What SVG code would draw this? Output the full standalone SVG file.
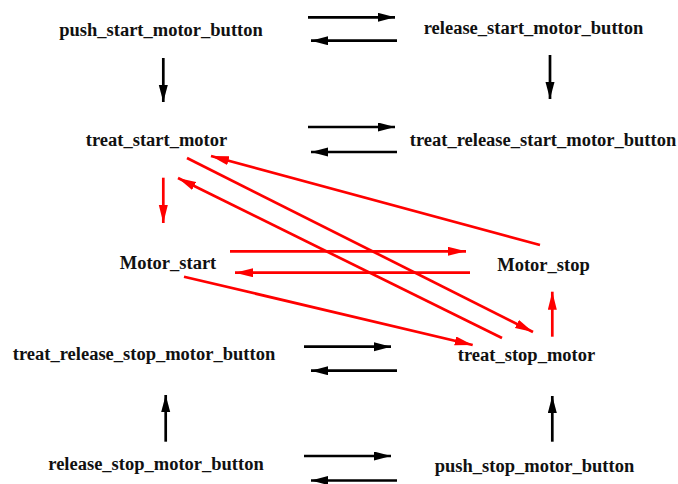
<svg xmlns="http://www.w3.org/2000/svg" width="678" height="484" viewBox="0 0 678 484">
  <style>
    .lbl { font-family: "Liberation Serif", "Times New Roman", serif; font-weight: bold; font-size: 18.5px; fill: #111; text-anchor: middle; }
    .blk { stroke: #000; stroke-width: 2.7; fill: none; marker-end: url(#ahB); }
    .red { stroke: #ff0000; stroke-width: 2.7; fill: none; marker-end: url(#ahR); }
    .redplain { stroke: #ff0000; stroke-width: 2.7; fill: none; }
  </style>
  <defs>
    <marker id="ahB" markerUnits="userSpaceOnUse" markerWidth="18" markerHeight="10" refX="17" refY="4.5" orient="auto">
      <path d="M0,0 L17,4.5 L0,9 z" fill="#000"/>
    </marker>
    <marker id="ahR" markerUnits="userSpaceOnUse" markerWidth="20" markerHeight="10" refX="18" refY="4.5" orient="auto">
      <path d="M0,0 L18,4.5 L0,9 z" fill="#ff0000"/>
    </marker>
  </defs>
  <rect width="678" height="484" fill="#fff"/>

  <!-- states -->
  <g id="push_start_motor_button"><text class="lbl" x="161" y="36">push_start_motor_button</text></g>
  <g id="release_start_motor_button"><text class="lbl" x="533.5" y="34">release_start_motor_button</text></g>
  <g id="treat_start_motor"><text class="lbl" x="156.5" y="146">treat_start_motor</text></g>
  <g id="treat_release_start_motor_button"><text class="lbl" x="543" y="146">treat_release_start_motor_button</text></g>
  <g id="Motor_start"><text class="lbl" x="168" y="269">Motor_start</text></g>
  <g id="Motor_stop"><text class="lbl" x="543.5" y="271">Motor_stop</text></g>
  <g id="treat_release_stop_motor_button"><text class="lbl" x="144" y="360">treat_release_stop_motor_button</text></g>
  <g id="treat_stop_motor"><text class="lbl" x="526.5" y="360.5">treat_stop_motor</text></g>
  <g id="release_stop_motor_button"><text class="lbl" x="156" y="470">release_stop_motor_button</text></g>
  <g id="push_stop_motor_button"><text class="lbl" x="534.5" y="471.5">push_stop_motor_button</text></g>

  <!-- transitions -->
  <g id="connectors">
    <!-- black horizontal pairs -->
    <line class="blk" x1="308" y1="17.3" x2="395" y2="17.3"/>
    <line class="blk" x1="397" y1="40.7" x2="311" y2="40.7"/>
    <line class="blk" x1="308" y1="127" x2="395" y2="127"/>
    <line class="blk" x1="397" y1="152" x2="311" y2="152"/>
    <line class="blk" x1="304" y1="346.7" x2="391" y2="346.7"/>
    <line class="blk" x1="397" y1="370.7" x2="311" y2="370.7"/>
    <line class="blk" x1="304" y1="456" x2="391" y2="456"/>
    <line class="blk" x1="397" y1="480.5" x2="311" y2="480.5"/>
    <!-- black vertical -->
    <line class="blk" x1="163.3" y1="58" x2="163.3" y2="102"/>
    <line class="blk" x1="550" y1="55" x2="550" y2="99"/>
    <line class="blk" x1="165.7" y1="441.7" x2="165.7" y2="395"/>
    <line class="blk" x1="552.3" y1="441.7" x2="552.3" y2="396"/>
    <!-- red -->
    <line class="red" x1="163.3" y1="177.7" x2="163.3" y2="223"/>
    <line class="red" x1="230" y1="251.3" x2="466" y2="251.3"/>
    <line class="red" x1="470" y1="272.7" x2="235" y2="272.7"/>
    <line class="red" x1="540" y1="245" x2="211" y2="156"/>
    <line class="red" x1="187" y1="158" x2="533" y2="332"/>
    <line class="red" x1="502" y1="338" x2="178" y2="178"/>
    <line class="red" x1="184" y1="276.7" x2="472.7" y2="345"/>
    <line class="red" x1="552.3" y1="336.7" x2="552.3" y2="291.7"/>
  </g>
</svg>
